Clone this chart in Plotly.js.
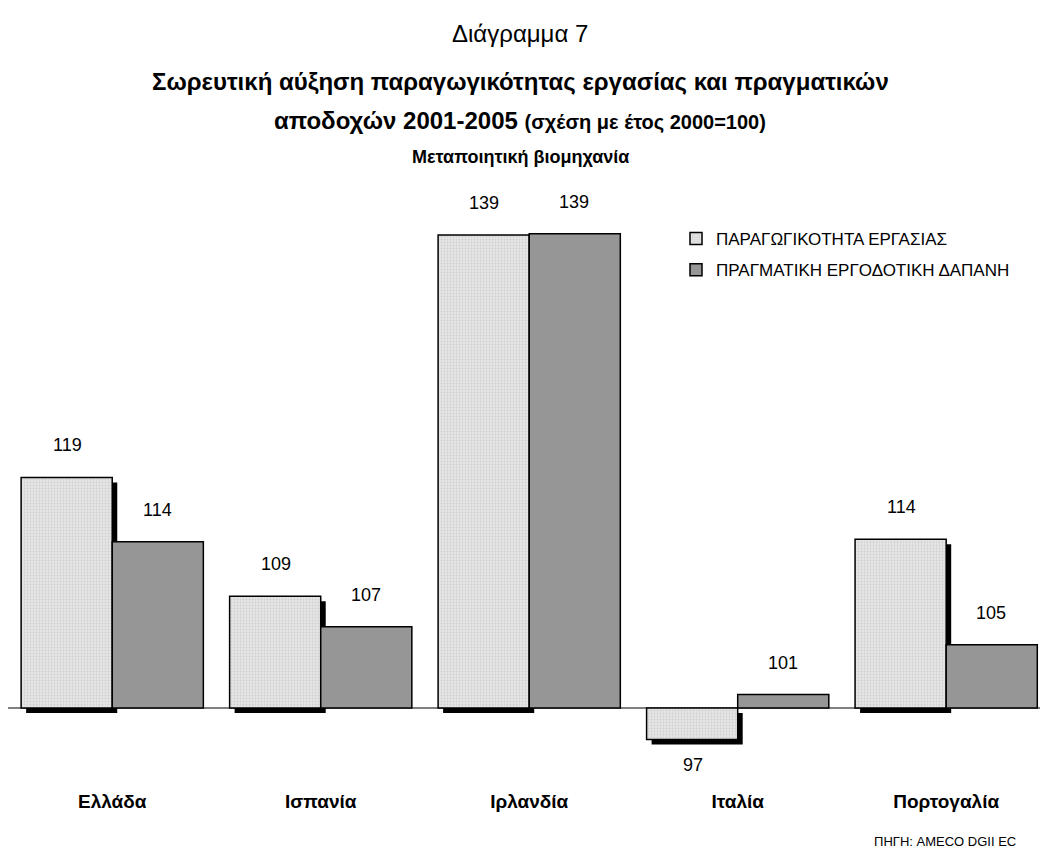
<!DOCTYPE html>
<html>
<head>
<meta charset="utf-8">
<script src="https://cdn.plot.ly/plotly-3.0.1.min.js"></script>
<style>html,body{margin:0;padding:0;background:#fff;}#chart{width:1040px;height:853px;}</style>
</head>
<body>
<div id="chart"></div>
<script>
// ---- data ----
const categories = ["Ελλάδα", "Ισπανία", "Ιρλανδία", "Ιταλία", "Πορτογαλία"];
const productivity = [119.0, 109.2, 139.0, 97.4, 113.9];
const realCost = [113.7, 106.7, 139.1, 101.1, 105.2];
const productivityLabels = ["119", "109", "139", "97", "114"];
const realCostLabels = ["114", "107", "139", "101", "105"];
const seriesNames = ["ΠΑΡΑΓΩΓΙΚΟΤΗΤΑ ΕΡΓΑΣΙΑΣ", "ΠΡΑΓΜΑΤΙΚΗ ΕΡΓΟΔΟΤΙΚΗ ΔΑΠΑΝΗ"];
const baseIndex = 100;

const FONT = "'Liberation Sans', Arial, sans-serif";
const barW = 0.437;
const shadowDx = 0.024;
const shadowDy = 0.41;

const dev = a => a.map(v => v - baseIndex);

const shadow = {
  type: 'bar', x: categories, y: dev(productivity), base: -shadowDy,
  width: barW, offset: -barW + shadowDx,
  marker: {color: '#000', line: {width: 0}},
  showlegend: false, hoverinfo: 'skip'
};
const light = {
  type: 'bar', name: seriesNames[0], legendgroup: 'a',
  x: categories, y: dev(productivity),
  width: barW, offset: -barW,
  marker: {color: '#e2e2e2', line: {color: '#000', width: 1.5},
    pattern: {shape: '.', bgcolor: '#e6e6e6', fgcolor: '#d0d0d0', size: 3, solidity: 0.3}},
};
const dark = {
  type: 'bar', name: seriesNames[1], legendgroup: 'b',
  x: categories, y: dev(realCost),
  width: barW, offset: 0,
  marker: {color: '#969696', line: {color: '#000', width: 1.5}},
};

const annotations = [];
function addLabels(vals, labels, xshift) {
  vals.forEach((v, i) => {
    const d = v - baseIndex;
    annotations.push({
      x: categories[i], y: d, xref: 'x', yref: 'y',
      text: labels[i], showarrow: false, yanchor: 'middle',
      xshift: xshift, yshift: d >= 0 ? 32 : -26,
      font: {family: FONT, size: 18, color: '#000'}
    });
  });
}
addLabels(productivity, productivityLabels, -45);
addLabels(realCost, realCostLabels, 45);

const titleX = (520 - 8) / 1032;
const py = p => (788 - p) / 598;
annotations.push(
  {xref: 'paper', yref: 'paper', x: titleX, y: py(33), yanchor: 'middle', showarrow: false,
   text: 'Διάγραμμα 7', font: {family: FONT, size: 24, color: '#000'}},
  {xref: 'paper', yref: 'paper', x: titleX, y: py(82), yanchor: 'middle', showarrow: false,
   text: '<b>Σωρευτική αύξηση παραγωγικότητας εργασίας και πραγματικών</b>', font: {family: FONT, size: 24, color: '#000'}},
  {xref: 'paper', yref: 'paper', x: titleX, y: py(120), yanchor: 'middle', showarrow: false,
   text: '<b>αποδοχών 2001-2005 <span style="font-size:20px">(σχέση με έτος 2000=100)</span></b>', font: {family: FONT, size: 24, color: '#000'}},
  {xref: 'paper', yref: 'paper', x: titleX, y: py(157), yanchor: 'middle', showarrow: false,
   text: '<b>Μεταποιητική βιομηχανία</b>', font: {family: FONT, size: 18, color: '#000'}},
  {xref: 'paper', yref: 'paper', x: (1018 - 8) / 1032, y: py(841), xanchor: 'right', yanchor: 'middle', showarrow: false,
   text: 'ΠΗΓΗ: AMECO DGII EC', font: {family: FONT, size: 13, color: '#000'}}
);

const layout = {
  width: 1040, height: 853,
  margin: {l: 8, r: 0, t: 190, b: 65},
  paper_bgcolor: '#fff', plot_bgcolor: '#fff',
  barmode: 'overlay',
  font: {family: FONT, color: '#000'},
  xaxis: {
    type: 'category', range: [-0.5, 4.45],
    showgrid: false, showline: false, zeroline: false, ticks: '',
    tickfont: {family: FONT, size: 19, color: '#000', weight: 'bold'}
  },
  yaxis: {
    range: [-6.6, 42.7], showgrid: false, showline: false,
    showticklabels: false, ticks: '',
    zeroline: true, zerolinecolor: '#808080', zerolinewidth: 1.5
  },
  legend: {
    x: (676 - 8) / 1032, y: py(221), xanchor: 'left', yanchor: 'top',
    font: {family: FONT, size: 17, color: '#000'},
    bgcolor: 'rgba(0,0,0,0)', traceorder: 'grouped', tracegroupgap: 6,
    itemwidth: 30
  },
  annotations: annotations,
  showlegend: true
};

Plotly.newPlot('chart', [shadow, light, dark], layout, {displayModeBar: false, staticPlot: true});
</script>
</body>
</html>
